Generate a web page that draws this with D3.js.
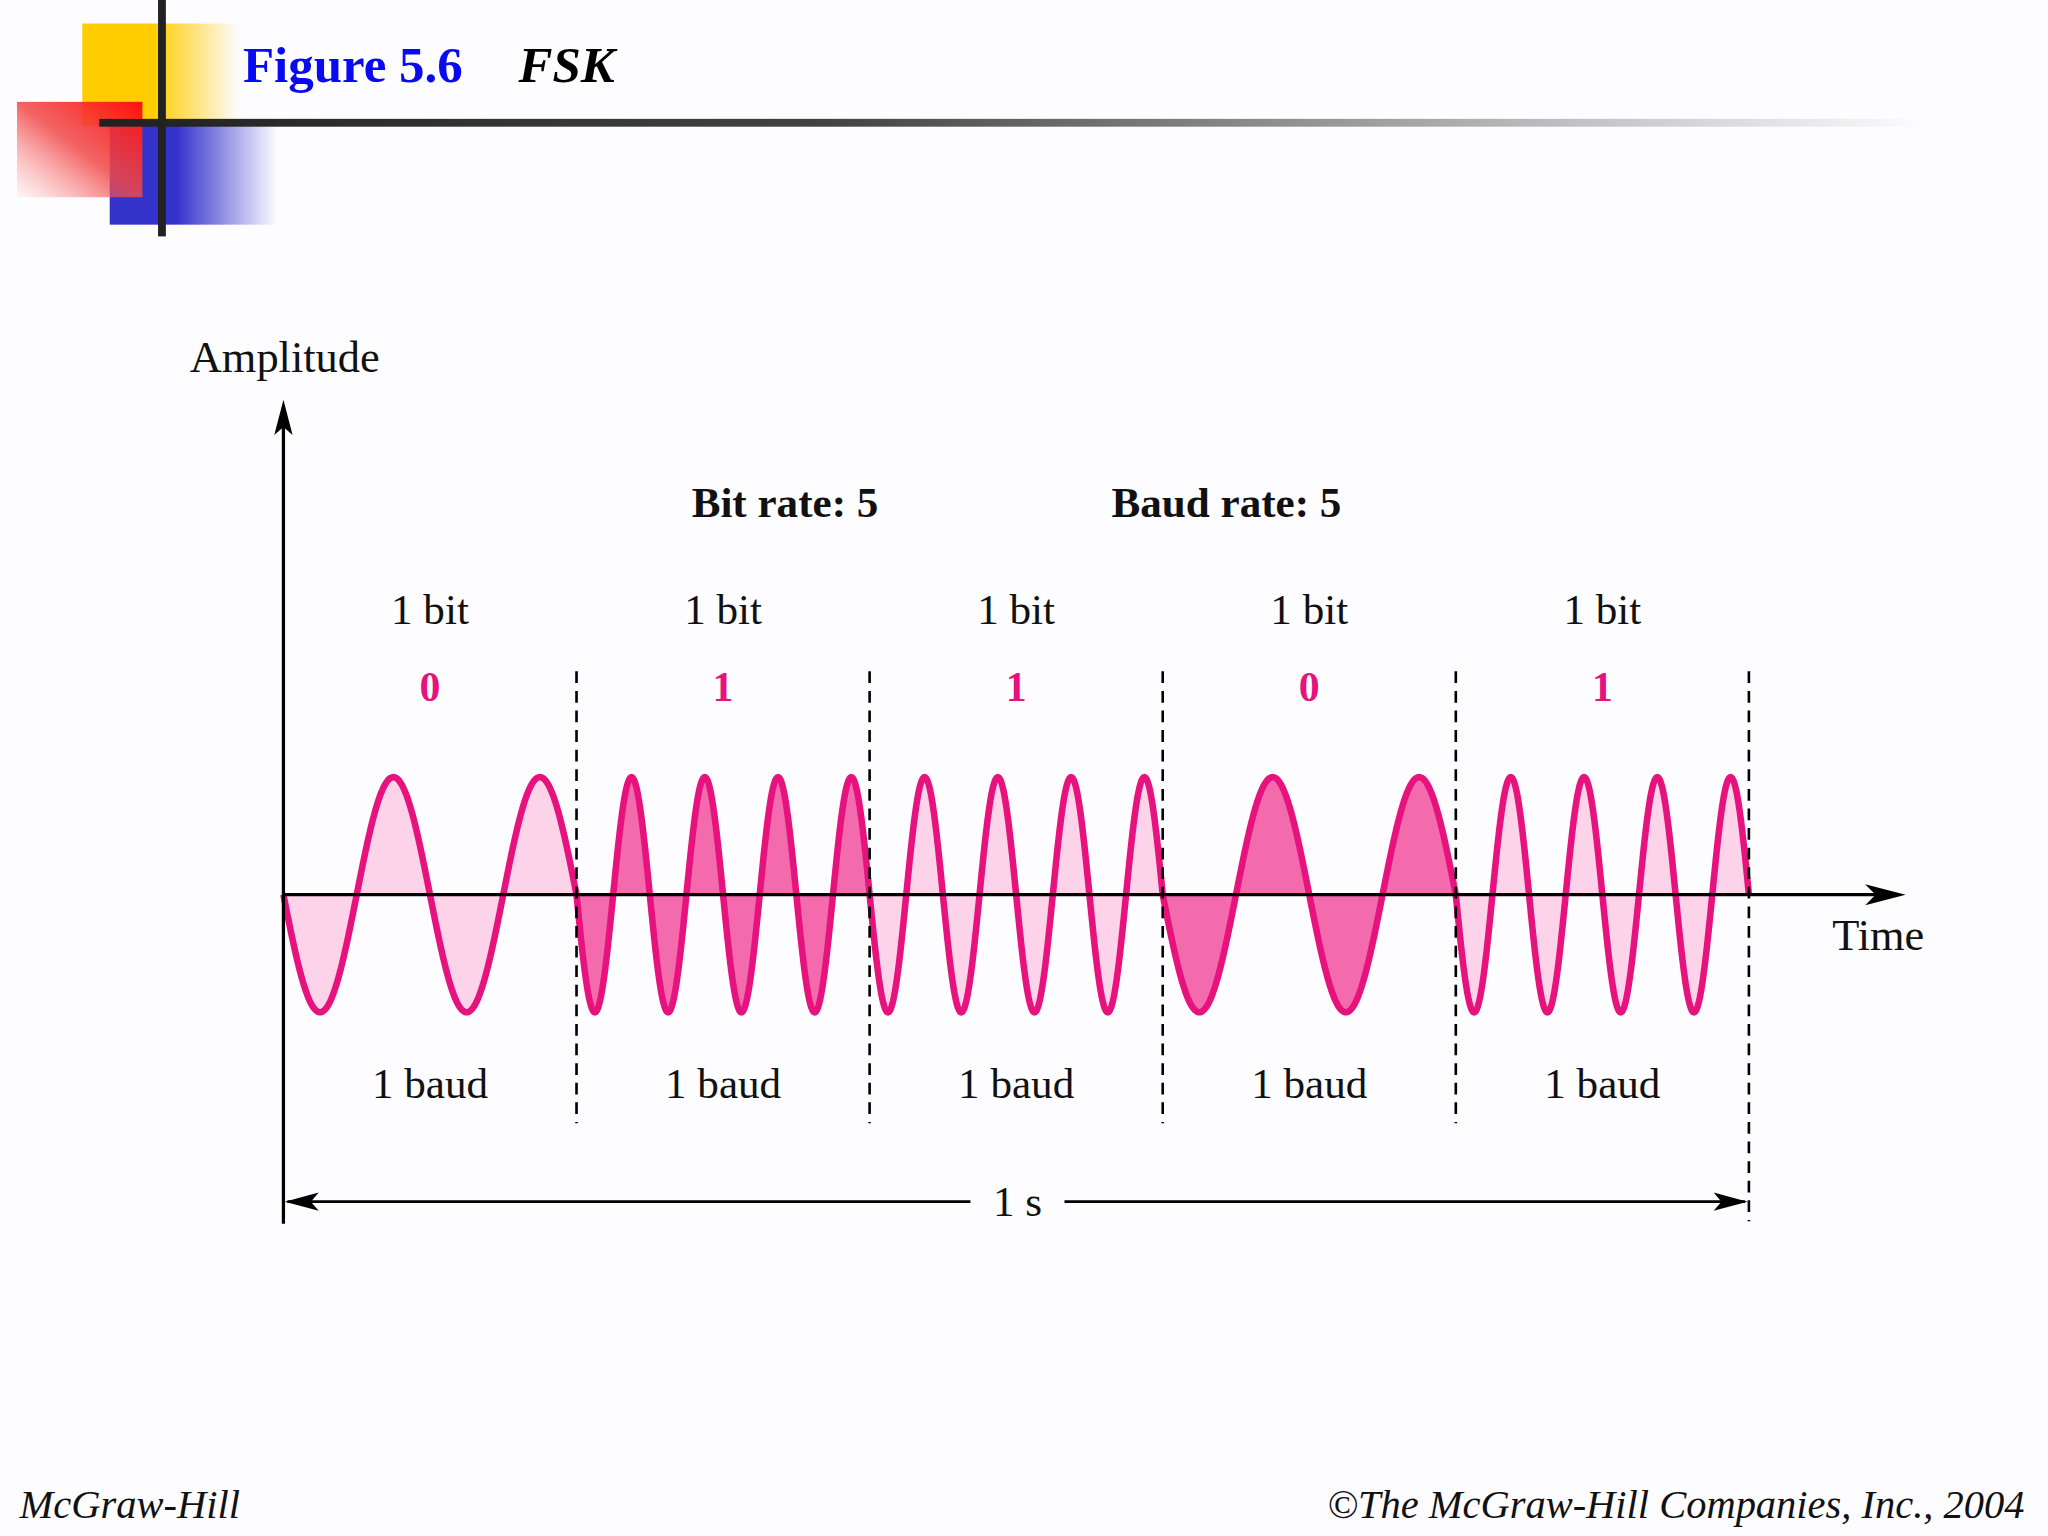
<!DOCTYPE html>
<html><head><meta charset="utf-8">
<script src="https://cdn.jsdelivr.net/npm/d3@7"></script>
<style>html,body{margin:0;padding:0;background:#fdfcfe}svg{display:block}</style>
</head><body>
<script>
const bits = [0, 1, 1, 0, 1];
const cyclesForBit = [2, 4];           // cycles per bit for 0 and 1
const bitLabels = ["1 bit","1 bit","1 bit","1 bit","1 bit"];
const baudLabels = ["1 baud","1 baud","1 baud","1 baud","1 baud"];
const segFill = ["#fcd3e8", "#f36aad"];

const W = 1568, H = 1176;
const svg = d3.select("body").append("svg")
  .attr("width", 2048).attr("height", 1536).attr("viewBox", `0 0 ${W} ${H}`);
const defs = svg.append("defs");
function grad(id, c, stops){
  const g = defs.append("linearGradient").attr("id", id).attr("x1","0").attr("x2","1").attr("y1","0").attr("y2","0");
  stops.forEach(([o,a])=>g.append("stop").attr("offset",o).attr("stop-color",c).attr("stop-opacity",a));
}
grad("gy","#ffcc00",[[0,1],[0.45,1],[1,0]]);
grad("gb","#3333cc",[[0,1],[0.4,1],[1,0]]);
defs.append("linearGradient").attr("id","gr").attr("x1","1").attr("y1","0").attr("x2","0").attr("y2","1")
  .selectAll("stop").data([[0,"#ff1010",1],[0.5,"#f04848",0.85],[1,"#ff8080",0.05]]).join("stop")
  .attr("offset",d=>d[0]).attr("stop-color",d=>d[1]).attr("stop-opacity",d=>d[2]);
grad("gl","#222",[[0,1],[0.4,0.85],[1,0]]);

// header decoration
svg.append("rect").attr("x",63).attr("y",18).attr("width",120).attr("height",78).attr("fill","url(#gy)");
svg.append("rect").attr("x",84).attr("y",95).attr("width",128).attr("height",77).attr("fill","url(#gb)");
svg.append("rect").attr("x",13).attr("y",78).attr("width",96).attr("height",73).attr("fill","url(#gr)");
svg.append("rect").attr("x",76).attr("y",91).attr("width",1400).attr("height",6).attr("fill","url(#gl)");
svg.append("rect").attr("x",121).attr("y",0).attr("width",6).attr("height",181).attr("fill","#222");
svg.append("text").attr("x",186).attr("y",63).attr("font-family","Liberation Serif").attr("font-weight","bold")
  .attr("font-size",39).attr("fill","#0a0af0").text("Figure 5.6");
svg.append("text").attr("x",397).attr("y",63).attr("font-family","Liberation Serif").attr("font-weight","bold")
  .attr("font-style","italic").attr("font-size",39).attr("fill","#000").text("FSK");

// scales
const x = d3.scaleLinear().domain([0, bits.length]).range([217, 1339]);
const y = d3.scaleLinear().domain([-1, 1]).range([775, 595]);
const serif = "Liberation Serif";

// waves
bits.forEach((b, i) => {
  const n = cyclesForBit[b];
  const pts = d3.range(0, 401).map(k => {
    const t = k / 400;
    return [i + t, -Math.sin(2 * Math.PI * n * t)];
  });
  const line = d3.line().x(d => x(d[0])).y(d => y(d[1]));
  const area = d3.area().x(d => x(d[0])).y0(y(0)).y1(d => y(d[1]));
  svg.append("path").attr("d", area(pts)).attr("fill", segFill[i % 2]);
  svg.append("path").attr("d", line(pts)).attr("fill", "none").attr("stroke", "#e6137f").attr("stroke-width", 5);
});

// axes
svg.append("line").attr("x1",217).attr("x2",217).attr("y1",325).attr("y2",937).attr("stroke","#000").attr("stroke-width",2.5);
svg.append("path").attr("d","M217,306 L210,333 L217,327 L224,333 Z").attr("fill","#000");
svg.append("line").attr("x1",217).attr("x2",1440).attr("y1",y(0)).attr("y2",y(0)).attr("stroke","#000").attr("stroke-width",2.5);
svg.append("path").attr("d",`M1459,${y(0)} L1428,${y(0)-8} L1436,${y(0)} L1428,${y(0)+8} Z`).attr("fill","#000");

// dashed boundaries
d3.range(1, bits.length + 1).forEach(i => {
  svg.append("line").attr("x1",x(i)).attr("x2",x(i)).attr("y1",514).attr("y2",i===bits.length?935:860)
    .attr("stroke","#000").attr("stroke-width",2).attr("stroke-dasharray","9,6");
});

// labels
const txt = (xx, yy, s, size, opts={}) => svg.append("text").attr("x",xx).attr("y",yy)
  .attr("text-anchor", opts.anchor||"middle").attr("font-family",serif).attr("font-size",size)
  .attr("font-weight",opts.bold?"bold":"normal").attr("font-style",opts.italic?"italic":"normal")
  .attr("fill",opts.fill||"#111").text(s);
bits.forEach((b, i) => {
  const cx = x(i + 0.5);
  txt(cx, 478, bitLabels[i], 33);
  txt(cx, 537, String(b), 32, {bold:true, fill:"#e6137f"});
  txt(cx, 841, baudLabels[i], 33);
});
txt(601, 396, "Bit rate: 5", 33, {bold:true});
txt(939, 396, "Baud rate: 5", 33, {bold:true});
txt(218, 285, "Amplitude", 34);
txt(1438, 727, "Time", 34);

// 1 s dimension
svg.append("line").attr("x1",220).attr("x2",743).attr("y1",920).attr("y2",920).attr("stroke","#000").attr("stroke-width",2);
svg.append("line").attr("x1",815).attr("x2",1336).attr("y1",920).attr("y2",920).attr("stroke","#000").attr("stroke-width",2);
svg.append("path").attr("d","M218,920 L244,913 L238,920 L244,927 Z").attr("fill","#000");
svg.append("path").attr("d","M1338,920 L1312,913 L1318,920 L1312,927 Z").attr("fill","#000");
txt(779, 931, "1 s", 33);

// footer
txt(15, 1162, "McGraw-Hill", 31, {anchor:"start", italic:true});
txt(1550, 1162, "©The McGraw-Hill Companies, Inc., 2004", 31, {anchor:"end", italic:true});
</script>
</body></html>
